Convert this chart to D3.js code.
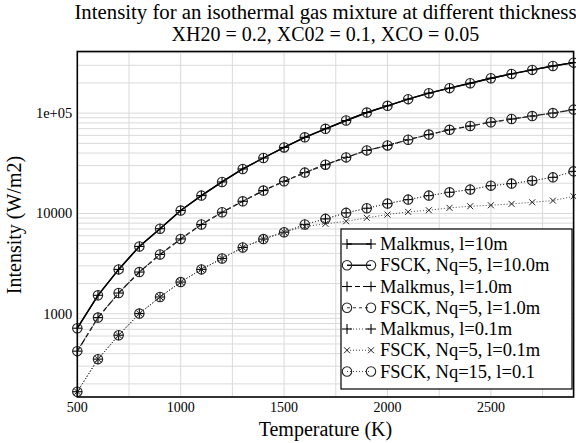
<!DOCTYPE html>
<html><head><meta charset="utf-8">
<script src="https://cdn.jsdelivr.net/npm/d3@7"></script>
<style>html,body{margin:0;padding:0;background:#fff}svg{display:block}</style>
</head><body>
<svg id="c" width="576" height="443"></svg>
<script>
const temperatures = [500,600,700,800,900,1000,1100,1200,1300,1400,1500,1600,1700,1800,1900,2000,2100,2200,2300,2400,2500,2600,2700,2800,2900];
const malkmus10 = [718,1528,2768,4688,7047,10690,15060,20600,27750,35700,45500,57450,69820,84400,101400,118300,137800,158100,177400,198800,222800,246000,269700,295400,318600];
const fsck5_10 = [718,1528,2768,4688,7047,10690,15060,20600,27750,35700,45500,57450,69820,84400,101400,118300,137800,158100,177400,198800,222800,246000,269700,295400,318600];
const malkmus1 = [424,916,1610,2605,3900,5570,7760,10280,13220,16900,20900,25530,30640,36220,42500,47650,54300,61140,68230,74470,81100,87350,93540,100200,108400];
const fsck5_1 = [424,916,1610,2605,3900,5570,7760,10280,13220,16900,20900,25530,30640,36220,42500,47650,54300,61140,68230,74470,81100,87350,93540,100200,108400];
const malkmus01 = [167,353,611,1005,1469,2070,2770,3560,4580,5555,6500,7760,8830,10140,11270,12530,13740,15060,16250,17290,18930,19830,21240,22900,26290];
const fsck5_01 = [167,353,611,1005,1469,2070,2770,3560,4580,5555,6500,7410,7880,8360,9040,9750,10370,10760,11370,11800,12070,12450,12920,13430,14820];
const fsck15_01 = [167,353,611,1005,1469,2070,2770,3560,4580,5555,6500,7760,8830,10140,11270,12530,13740,15060,16250,17290,18930,19830,21240,22900,26290];
const seriesLabels = ["Malkmus, l=10m","FSCK, Nq=5, l=10.0m","Malkmus, l=1.0m","FSCK, Nq=5, l=1.0m","Malkmus, l=0.1m","FSCK, Nq=5, l=0.1m","FSCK, Nq=15, l=0.1"];
const xTicks = [500,1000,1500,2000,2500];
const yTicks = [1000,10000,100000];
const yTickLabels = ["1000","10000","1e+05"];
const titleLines = ["Intensity for an isothermal gas mixture at different thickness","XH20 = 0.2, XC02 = 0.1, XCO = 0.05"];

const series = [
  {label:seriesLabels[0], values:malkmus10, marker:"plus", dash:null, color:"#000", w:1.4},
  {label:seriesLabels[1], values:fsck5_10, marker:"circle", dash:null, color:"#000", w:1.4},
  {label:seriesLabels[2], values:malkmus1, marker:"plus", dash:"5,3", color:"#000", w:1.2},
  {label:seriesLabels[3], values:fsck5_1, marker:"circle", dash:"3,3", color:"#333", w:1.2},
  {label:seriesLabels[4], values:malkmus01, marker:"plus", dash:"1,2", color:"#444", w:1},
  {label:seriesLabels[5], values:fsck5_01, marker:"cross", dash:"1,2", color:"#444", w:1},
  {label:seriesLabels[6], values:fsck15_01, marker:"circle", dash:"1,2", color:"#444", w:1}
];

const FONT = '"Liberation Serif"';
const L=77.3, R=573.6, T=51.5, B=397;
const svg = d3.select("#c");
const x = d3.scaleLinear().domain([500,2900]).range([L,R]);
const y = d3.scaleLog().domain([148,411500]).range([B,T]);

const g = svg.append("g");
const xGrid = d3.range(750, 2900, 250);
g.selectAll("line.xg").data(xGrid).join("line")
  .attr("x1",d=>x(d)).attr("x2",d=>x(d)).attr("y1",T).attr("y2",B)
  .attr("stroke","#dadada").attr("stroke-width",1);
const yGrid = [];
[100,1000,10000,100000].forEach(dec=>{for(let k=1;k<10;k++){const v=dec*k; if(v>148 && v<411500) yGrid.push(v);}});
g.selectAll("line.yg").data(yGrid).join("line")
  .attr("x1",L).attr("x2",R).attr("y1",d=>y(d)).attr("y2",d=>y(d))
  .attr("stroke","#dadada").attr("stroke-width",1);

function drawMarker(sel, type, cx, cy){
  if(type==="plus"){
    sel.append("line").attr("x1",cx-5).attr("x2",cx+5).attr("y1",cy).attr("y2",cy).attr("stroke","#000").attr("stroke-width",1.1);
    sel.append("line").attr("x1",cx).attr("x2",cx).attr("y1",cy-5).attr("y2",cy+5).attr("stroke","#000").attr("stroke-width",1.1);
  } else if(type==="circle"){
    sel.append("circle").attr("cx",cx).attr("cy",cy).attr("r",4.7).attr("fill","none").attr("stroke","#222").attr("stroke-width",1.1);
  } else if(type==="cross"){
    sel.append("line").attr("x1",cx-3).attr("x2",cx+3).attr("y1",cy-3).attr("y2",cy+3).attr("stroke","#222").attr("stroke-width",1);
    sel.append("line").attr("x1",cx-3).attr("x2",cx+3).attr("y1",cy+3).attr("y2",cy-3).attr("stroke","#222").attr("stroke-width",1);
  }
}
const line = d3.line().x((d,i)=>x(temperatures[i])).y(d=>y(d));
series.forEach(s=>{
  const sg = svg.append("g");
  sg.append("path").attr("d",line(s.values)).attr("fill","none")
    .attr("stroke",s.color).attr("stroke-width",s.w)
    .attr("stroke-dasharray",s.dash);
  s.values.forEach((v,i)=>drawMarker(sg, s.marker, x(temperatures[i]), y(v)));
});

svg.append("rect").attr("x",L).attr("y",T).attr("width",R-L).attr("height",B-T)
  .attr("fill","none").attr("stroke","#000").attr("stroke-width",1.6);

svg.selectAll("text.xt").data(xTicks).join("text")
  .attr("x",d=>x(d)).attr("y",B+15).attr("text-anchor","middle")
  .style("font-family",FONT).style("font-size","14px").text(d=>d);
svg.selectAll("text.yt").data(yTicks).join("text")
  .attr("x",L-5).attr("y",d=>y(d)+5).attr("text-anchor","end")
  .style("font-family",FONT).style("font-size","14.5px").text((d,i)=>yTickLabels[i]);

svg.append("text").attr("x",(L+R)/2).attr("y",436).attr("text-anchor","middle")
  .style("font-family",FONT).style("font-size","20px").text("Temperature (K)");
svg.append("text").attr("transform","translate(21,225) rotate(-90)").attr("text-anchor","middle")
  .style("font-family",FONT).style("font-size","20px").text("Intensity (W/m2)");

titleLines.forEach((t,i)=>{
  svg.append("text").attr("x",(L+R)/2).attr("y",19+i*22).attr("text-anchor","middle")
    .style("font-family",FONT).style("font-size", i===0 ? "20.8px" : "20px").text(t);
});

const lg = svg.append("g");
lg.append("rect").attr("x",341).attr("y",229).attr("width",231).attr("height",160)
  .attr("fill","#fff").attr("stroke","#000").attr("stroke-width",1.2);
series.forEach((s,i)=>{
  const cy = 244 + i*21.25;
  const row = lg.append("g");
  row.append("line").attr("x1",347).attr("x2",371).attr("y1",cy).attr("y2",cy)
    .attr("stroke",s.color).attr("stroke-width",s.w).attr("stroke-dasharray",s.dash);
  drawMarker(row, s.marker, 347, cy);
  drawMarker(row, s.marker, 371, cy);
  row.append("text").attr("x",380).attr("y",cy+6).style("font-family",FONT).style("font-size","18.5px").text(s.label);
});
</script>
</body></html>
